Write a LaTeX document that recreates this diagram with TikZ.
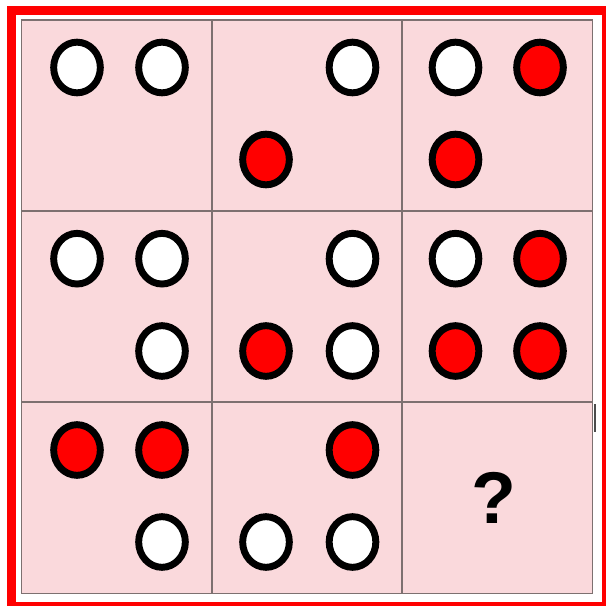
\documentclass[tikz,border=0pt]{standalone}
\usepackage{fontspec}
\setmainfont{Liberation Sans}
\usetikzlibrary{shapes.geometric}
\definecolor{cellpink}{RGB}{250,217,220}
\definecolor{gridgray}{RGB}{125,112,112}
\definecolor{dotred}{RGB}{255,0,0}

\begin{document}
\begin{tikzpicture}[x=0.75pt, y=-0.75pt,
    cell/.style={rectangle, draw=gridgray, line width=1.1pt, fill=cellpink, minimum width=142.7pt, minimum height=143.4pt, inner sep=0pt},
    dot/.style={ellipse, draw=black, line width=5.2pt, minimum width=35pt, minimum height=38pt, inner sep=0pt},
    wdot/.style={dot, fill=white},
    rdot/.style={dot, fill=dotred}]
        \useasboundingbox (0,0) rectangle (606,606);

        % Red frame
        \draw[dotred, line width=6.75pt] (11.5,10.5) rectangle (606.5,606.5);

        % Cells
        \node[cell] (c11) at (116.7,115.5) {};
        \node[cell] (c12) at (306.9,115.5) {};
        \node[cell] (c13) at (497.3,115.5) {};
        \node[cell] (c21) at (116.7,306.5) {};
        \node[cell] (c22) at (306.9,306.5) {};
        \node[cell] (c23) at (497.3,306.5) {};
        \node[cell] (c31) at (116.7,498) {};
        \node[cell] (c32) at (306.9,498) {};
        \node[cell] (c33) at (497.3,498) {};

        % Row 1
        \node[wdot] (c11tl) at (77,67.5) {};
        \node[wdot] (c11tr) at (162,67.5) {};
        \node[wdot] (c12tr) at (352.5,67.5) {};
        \node[rdot] (c12bl) at (266,159.5) {};
        \node[wdot] (c13tl) at (455.5,67.5) {};
        \node[rdot] (c13tr) at (540,67.5) {};
        \node[rdot] (c13bl) at (455.5,159.5) {};

        % Row 2
        \node[wdot] (c21tl) at (77,258.7) {};
        \node[wdot] (c21tr) at (162,258.7) {};
        \node[wdot] (c21br) at (162,351) {};
        \node[wdot] (c22tr) at (352.5,258.7) {};
        \node[rdot] (c22bl) at (266,351) {};
        \node[wdot] (c22br) at (352.5,351) {};
        \node[wdot] (c23tl) at (455.5,258.7) {};
        \node[rdot] (c23tr) at (540,258.7) {};
        \node[rdot] (c23bl) at (455.5,351) {};
        \node[rdot] (c23br) at (540,351) {};

        % Row 3
        \node[rdot] (c31tl) at (77,450) {};
        \node[rdot] (c31tr) at (162,450) {};
        \node[wdot] (c31br) at (162,542) {};
        \node[rdot] (c32tr) at (352.5,450) {};
        \node[wdot] (c32bl) at (266,542) {};
        \node[wdot] (c32br) at (352.5,542) {};

        % Missing cell
        \node[inner sep=0pt, font=\fontsize{55}{55}\selectfont\bfseries] (ask) at (494,498) {?};

        % Stray mark at the right edge
        \draw[black!70, line width=1.9pt] (595,404) -- (595,432);
    \end{tikzpicture}
\end{document}
